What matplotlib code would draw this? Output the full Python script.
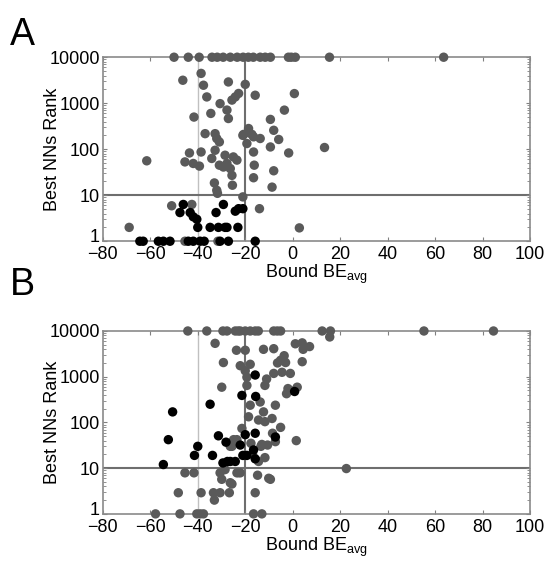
import matplotlib
matplotlib.use('Agg')
import matplotlib.pyplot as plt
from matplotlib.ticker import FixedLocator, FixedFormatter, LogLocator, NullFormatter
from matplotlib.transforms import ScaledTranslation

plt.rcParams['font.family'] = ['Liberation Sans', 'DejaVu Sans']
plt.rcParams['mathtext.fontset'] = 'custom'
plt.rcParams['mathtext.rm'] = 'Liberation Sans'

# ---- panel A data (Bound BE_avg, best NNs rank) ----
a_gray_x = [-50, -44, -39.4, -34, -31.8, -29.3, -26.3, -23.4, -20.9, -18.7, -16.6, -13.7, -11.6, -9.4,
            -1.8, -0.6, 1.1, 15.5, 63.6,
            -46.3, -38.6, -37.6, -36.2, -41.6, -34.5, -30.6, -27.1, -27.7, -27.1, -25.6, -24.2, -22.8,
            -20, -15.8, -36.9, -32.7, -32, -30.9, -43.5, -38.6, -61.5, -45.4, -41.9, -39.3, -34.1,
            -32.7, -30.9, -29.2, -27.7, -26.3, -28.5, -25.6, -25, -23.5, -25.4, -33, -32, -31.7,
            -21, -18.6, -18.6, -16.5, -19.3, -16.5, -16.2, -16.5, -14, -21, -51, -42.5, -68.9,
            -45.4, -31.5, -9.4, -8, -5.9, -9.4, -1.7, -8, -8.7, -3.5, 0.7, 13.4, 2.8, -13.7,
            -17.2, -20.7]
a_gray_y = [10000] * 19 + [
            3160, 4450, 2460, 1370, 500, 600, 980, 2900, 710, 465, 1170, 1370, 1630,
            2570, 1490, 218, 218, 171, 144, 83, 87, 56, 53, 49, 43, 63,
            95, 45, 41, 49, 38, 74, 27, 68, 58, 16.5, 18.5, 12.8, 11,
            200, 282, 230, 186, 133, 87, 45, 24, 5.1, 9.2, 5.9, 6.3, 2.0,
            1, 1, 445, 258, 163, 112, 83, 34, 15, 708, 1620, 109, 1.95, 171,
            210, 210]

a_black_x = [-46.1, -47.5, -43.2, -41.9, -40.4, -40, -34.8, -32.3, -29.2, -31.3, -27.7, -23.1,
             -24.2, -22.8, -21, -28.5,
             -64.4, -63, -56.6, -54.5, -51.7, -44, -41.9, -39, -37.3, -30.6, -27.1, -15.8]
a_black_y = [6.3, 4.2, 4.2, 3.4, 3.0, 2.0, 2.0, 4.2, 6.3, 2.0, 2.0, 2.0,
             4.5, 5.1, 5.1, 2.0] + [1] * 12

# ---- panel B data ----
b_gray_x = [-44.2, -36.2, -29.4, -27.7, -24.2, -23, -22.1, -20, -17.9, -15.8, -14.5, -8, -6.5,
            -5.1, 12.4, 15.9, 55.3, 84.6,
            15.6, -32.7, -29.2, -23.7, -20, -22.1, -17.9, -20, -19.3, -19.3, -29.9, -12.3, -8,
            -11, -11.7, -17.9, -13.7, -18.6, -14.4, -11.7, -12.3, -7.3, -21.4, -24.9, -26.3,
            -17.6, -16.9, -13.4, -10.6, -8.5, -14.4, -45.4, -41.6, -30.6, -28.5, -29.9, -26.3,
            -23.5, -22.1, -14.8, -10.1, -48.2, -38.6, -33.4, -30.6, -26.7, -33, -15.8,
            -57.8, -47.5, -40.4, -39, -37.6, -16.5, -13,
            1.1, 4, 7.1, 4.4, -3.6, -5.1, -3, -6.4, 4, -8, -4.5, -1, -2.6, -1, 1.9,
            -8.7, -5.1, 1.5, -7.3, 22.6, -9.4, -25.6, -23.5, -22.8, -25.6, -13, -11.7, -2]
b_gray_y = [10000] * 18 + [
            7400, 5370, 2040, 3790, 3790, 1740, 1870, 1350, 975, 645, 590, 3970, 4100,
            890, 645, 238, 280, 133, 113, 104, 170, 238, 74, 42, 30,
            35, 20, 30, 32, 58, 14, 7.9, 7.9, 7.9, 9.3, 5.7, 4.8,
            7.9, 7.9, 7, 6, 2.9, 2.9, 2.9, 2.9, 2.9, 2.0, 2.9,
            1, 1, 1, 1, 1, 1, 1,
            5250, 5500, 4560, 3970, 2880, 2290, 2040, 2000, 2130, 1180, 1250, 1180, 425, 500, 590,
            122, 78, 40, 38, 9.8, 5.7, 30, 42, 8, 4.5, 33, 17, 550]

b_black_x = [-50.6, -52.4, -54.5, -34.8, -31.3, -28.1, -40, -41.4, -33.8, -29.4, -27.5, -26.3,
             -24.2, -22.1, -20, -15.8, -21.4, -15.6, -15.8, -19.3, -15.8, -16.5, -7.3, 0.8, -21]
b_black_y = [170, 42, 12, 250, 51, 37, 30, 19, 19, 13, 14, 14,
             14, 32, 54, 58, 390, 370, 1090, 19, 16, 25, 48, 475, 19]

x_ticks = [-80, -60, -40, -20, 0, 20, 40, 60, 80, 100]
y_ticks = [1, 10, 100, 1000, 10000]
y_labels = ['1', '10', '100', '1000', '10000']

fig = plt.figure(figsize=(5.47, 5.61), dpi=100)
ax_a = fig.add_axes([0.188, 0.570, 0.781, 0.328])
ax_b = fig.add_axes([0.188, 0.084, 0.781, 0.326])

def style(ax, gx, gy, kx, ky):
    ax.axvline(-40, color='#c0c0c0', lw=1.0, zorder=1)
    ax.axvline(-20, color='#6e6e6e', lw=1.5, zorder=1)
    ax.axhline(10, color='#6e6e6e', lw=1.5, zorder=1)
    ax.scatter(gx, gy, s=46, color='#5a5a5a', edgecolors='none', zorder=3, clip_on=False)
    ax.scatter(kx, ky, s=46, color='black', edgecolors='none', zorder=4, clip_on=False)
    ax.set_yscale('log')
    ax.set_xlim(-80, 100)
    ax.set_ylim(1, 10000)
    ax.xaxis.set_major_locator(FixedLocator(x_ticks))
    ax.yaxis.set_major_locator(FixedLocator(y_ticks))
    ax.yaxis.set_major_formatter(FixedFormatter(y_labels))
    ax.yaxis.set_minor_locator(LogLocator(base=10, subs=range(2, 10)))
    ax.yaxis.set_minor_formatter(NullFormatter())
    ax.tick_params(which='both', direction='in', top=True, right=True,
                   color='#808080', labelsize=13)
    ax.tick_params(axis='y', pad=2)
    ax.tick_params(axis='x', pad=3.5)
    ax.tick_params(which='major', length=3)
    ax.tick_params(which='minor', length=2)
    for sp in ax.spines.values():
        sp.set_color('#8a8a8a')
        sp.set_linewidth(1.2)
    ax.set_xticklabels([str(t).replace('-', '\u2212') for t in x_ticks])
    ax.set_xlabel(r'Bound BE$_{\rm avg}$', fontsize=13, labelpad=0)
    ax.set_ylabel('Best NNs Rank', fontsize=13)
    ax.yaxis.set_label_coords(-0.097, 0.5)
    # nudge the "1" label up a little so it clears the -80 label
    lab = ax.yaxis.get_major_ticks()[0].label1
    lab.set_transform(lab.get_transform() + ScaledTranslation(0, 4 / 72, fig.dpi_scale_trans))

style(ax_a, a_gray_x, a_gray_y, a_black_x, a_black_y)
style(ax_b, b_gray_x, b_gray_y, b_black_x, b_black_y)

fig.text(0.018, 0.920, 'A', fontsize=27, ha='left', va='baseline')
fig.text(0.018, 0.474, 'B', fontsize=27, ha='left', va='baseline')

fig.savefig('out.png', dpi=100)
